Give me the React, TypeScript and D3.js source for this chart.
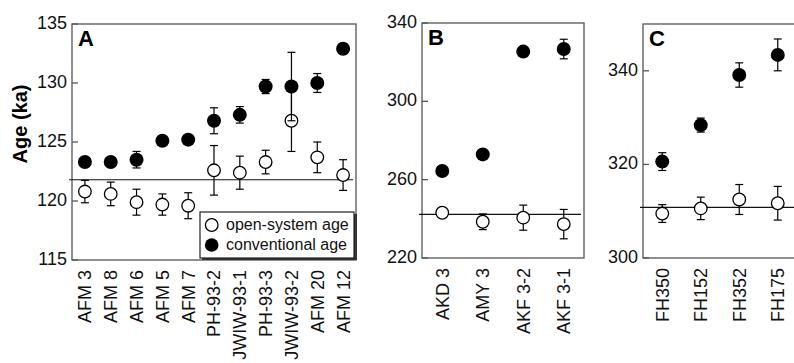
import React from "react";
import { scaleLinear, scalePoint } from "d3";

// panel A
const catsA = ["AFM 3", "AFM 8", "AFM 6", "AFM 5", "AFM 7", "PH-93-2", "JWIW-93-1", "PH-93-3", "JWIW-93-2", "AFM 20", "AFM 12"];
const convA = [123.3, 123.3, 123.5, 125.1, 125.2, 126.8, 127.3, 129.7, 129.7, 130.0, 132.9];
const convErrA = [0.3, 0.3, 0.7, 0.3, 0.3, 1.1, 0.7, 0.6, 2.9, 0.8, 0.4];
const openA = [120.8, 120.6, 119.9, 119.7, 119.6, 122.6, 122.4, 123.3, 126.8, 123.7, 122.2];
const openErrA = [0.95, 1.0, 1.1, 0.9, 1.1, 2.1, 1.4, 1.0, 2.6, 1.3, 1.3];
const ticksA = [115, 120, 125, 130, 135];
const refA = 121.8;

// panel B
const catsB = ["AKD 3", "AMY 3", "AKF 3-2", "AKF 3-1"];
const convB = [264.4, 272.9, 325.4, 326.7];
const convErrB = [1.5, 1.5, 1.5, 5];
const openB = [243.1, 238.5, 240.6, 237.3];
const openErrB = [2, 4, 6.4, 7.5];
const ticksB = [220, 260, 300, 340];
const refB = 242.3;

// panel C
const catsC = ["FH350", "FH152", "FH352", "FH175"];
const convC = [320.6, 328.4, 339.1, 343.4];
const convErrC = [1.9, 1.5, 2.6, 3.4];
const openC = [309.5, 310.6, 312.5, 311.7];
const openErrC = [1.9, 2.4, 3.2, 3.6];
const ticksC = [300, 320, 340];
const refC = 310.8;

const FONT = "'Liberation Sans', Arial, Helvetica, sans-serif";

type PanelProps = {
  letter: string;
  cats: string[];
  conv: number[];
  convErr: number[];
  open: number[];
  openErr: number[];
  ticks: number[];
  domain: [number, number];
  refValue: number;
  x0: number;
  x1: number;
  y0: number;
  y1: number;
  legend?: boolean;
};

function ErrBar({ x, y, lo, hi }: { x: number; y: (v: number) => number; lo: number; hi: number }) {
  return (
    <g stroke="#000" strokeWidth={1.2}>
      <line x1={x} x2={x} y1={y(lo)} y2={y(hi)} />
      <line x1={x - 4} x2={x + 4} y1={y(lo)} y2={y(lo)} />
      <line x1={x - 4} x2={x + 4} y1={y(hi)} y2={y(hi)} />
    </g>
  );
}

function Panel(p: PanelProps) {
  const x = scalePoint<string>().domain(p.cats).range([p.x0, p.x1]).padding(0.5);
  const y = scaleLinear().domain(p.domain).range([p.y1, p.y0]);

  return (
    <g fontFamily={FONT}>
      {/* frame */}
      <rect x={p.x0} y={p.y0} width={p.x1 - p.x0} height={p.y1 - p.y0} fill="none" stroke="#555" strokeWidth={1.3} />

      {/* ticks on the inside */}
      {p.ticks.map((t) => (
        <g key={t}>
          <line x1={p.x0} x2={p.x0 + 6} y1={y(t)} y2={y(t)} stroke="#555" strokeWidth={1.3} />
          <text x={p.x0 - 5} y={y(t) - 1.5} dy="0.36em" textAnchor="end" fontSize={18} fill="#111">
            {t}
          </text>
        </g>
      ))}

      {/* reference line */}
      <line x1={p.x0 - 3} x2={p.x1 - 3} y1={y(p.refValue)} y2={y(p.refValue)} stroke="#111" strokeWidth={1.2} />

      {/* open-system ages */}
      {p.cats.map((c, i) => (
        <ErrBar key={"oe" + c} x={x(c)!} y={y} lo={p.open[i] - p.openErr[i]} hi={p.open[i] + p.openErr[i]} />
      ))}
      {p.cats.map((c, i) => (
        <circle key={"o" + c} cx={x(c)} cy={y(p.open[i])} r={6.3} fill="#fff" stroke="#000" strokeWidth={1.3} />
      ))}

      {/* conventional ages */}
      {p.cats.map((c, i) => (
        <ErrBar key={"ce" + c} x={x(c)!} y={y} lo={p.conv[i] - p.convErr[i]} hi={p.conv[i] + p.convErr[i]} />
      ))}
      {p.cats.map((c, i) => (
        <circle key={"c" + c} cx={x(c)} cy={y(p.conv[i])} r={7} fill="#000" />
      ))}

      {/* category labels */}
      {p.cats.map((c) => (
        <text
          key={"l" + c}
          transform={`translate(${x(c)},${p.y1 + 10}) rotate(-90)`}
          dy="0.36em"
          textAnchor="end"
          fontSize={18}
          fill="#111"
        >
          {c}
        </text>
      ))}

      <text x={p.x0 + 6} y={p.y0 + 22} fontSize={22} fontWeight="bold" fill="#000">
        {p.letter}
      </text>

      {p.legend && (
        <g>
          <rect x={202} y={214} width={155} height={46} fill="#333" />
          <rect x={200} y={212} width={154} height={46} fill="#fff" stroke="#222" strokeWidth={1.2} />
          <circle cx={211.7} cy={225} r={6.3} fill="#fff" stroke="#000" strokeWidth={1.3} />
          <circle cx={211.7} cy={245} r={6.8} fill="#000" />
          <text x={226} y={230} fontSize={16} fill="#111">open-system age</text>
          <text x={226} y={250} fontSize={16} fill="#111">conventional age</text>
        </g>
      )}
    </g>
  );
}

export default function App() {
  return (
    <svg width={794} height={363} style={{ position: "absolute", left: 0, top: 0, background: "#fff" }}>
      <text
        transform="translate(20,124) rotate(-90)"
        dy="0.36em"
        textAnchor="middle"
        fontFamily={FONT}
        fontWeight="bold"
        fontSize={20}
        fill="#000"
      >
        Age (ka)
      </text>
      <Panel letter="A" cats={catsA} conv={convA} convErr={convErrA} open={openA} openErr={openErrA}
        ticks={ticksA} domain={[115, 135]} refValue={refA} x0={72} x1={356} y0={24} y1={260} legend />
      <Panel letter="B" cats={catsB} conv={convB} convErr={convErrB} open={openB} openErr={openErrB}
        ticks={ticksB} domain={[220, 340]} refValue={refB} x0={422} x1={584} y0={23} y1={258} />
      <Panel letter="C" cats={catsC} conv={convC} convErr={convErrC} open={openC} openErr={openErrC}
        ticks={ticksC} domain={[300, 350]} refValue={refC} x0={643} x1={797} y0={24} y1={258} />
    </svg>
  );
}
